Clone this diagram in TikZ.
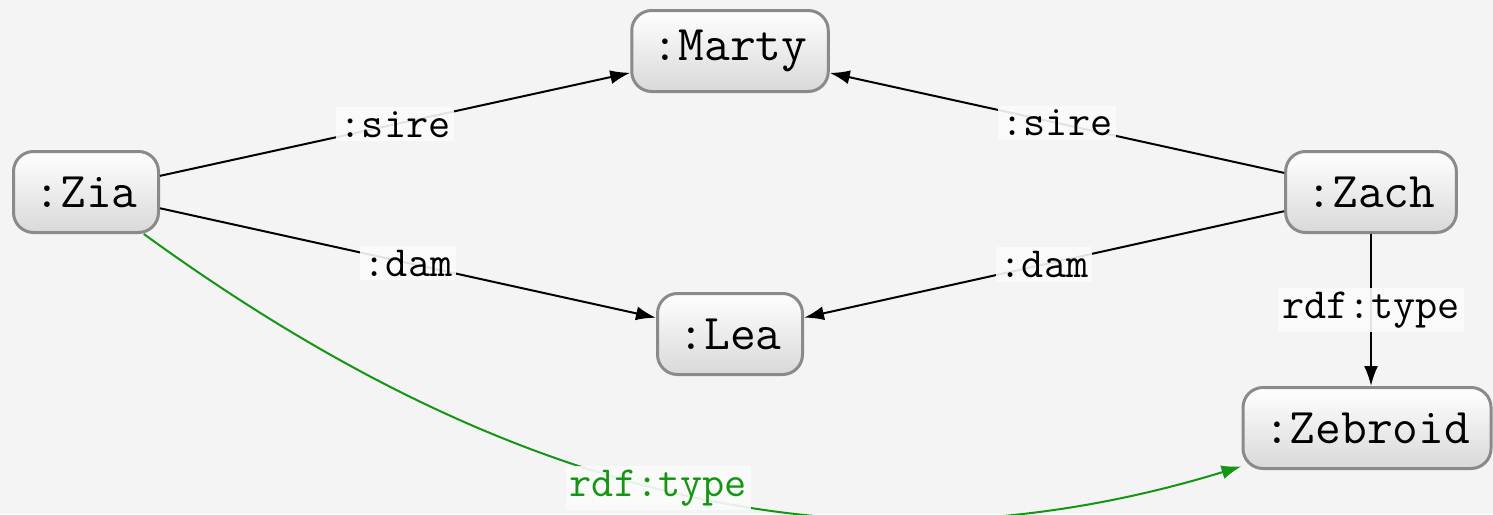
\documentclass[tikz,border=0pt]{standalone}
\usetikzlibrary{arrows.meta}
\definecolor{rdfgreen}{RGB}{20,150,20}
\definecolor{bordergray}{RGB}{138,138,138}
\definecolor{bggray}{RGB}{244,244,244}
\begin{document}
\begin{tikzpicture}[x=0.5pt,y=-0.5pt,
  res/.style={draw=bordergray, line width=1.5pt, rounded corners=10pt,
    top color=white, bottom color=black!15, inner xsep=10.5pt, inner ysep=0pt,
    minimum height=40.5pt, font=\fontsize{25}{28}\selectfont\ttfamily},
  edge/.style={line width=1pt, -{Latex[length=10pt,width=7pt]}},
  lbl/.style={fill=bggray!40!white, fill opacity=0.9, text opacity=1, inner sep=2pt,
    font=\fontsize{21.5}{24}\selectfont\ttfamily}]
\fill[bggray] (0,0) rectangle (1493,514);
\useasboundingbox (0,0) rectangle (1493,514);
\node[res] (Marty) at (730,51) {:Marty};
\node[res] (Zia) at (86,192) {:Zia};
\node[res] (Zach) at (1371,192) {:Zach};
\node[res] (Lea) at (730,334) {:Lea};
\node[res] (Zebroid) at (1367,428) {:Zebroid};
\draw[edge] (Zia) -- node[lbl]{:sire} (Marty);
\draw[edge] (Zach) -- node[lbl]{:sire} (Marty);
\draw[edge] (Zia) -- node[lbl]{:dam} (Lea);
\draw[edge] (Zach) -- node[lbl]{:dam} (Lea);
\draw[edge] (Zach.south) -- node[lbl]{rdf:type} (Zach.south |- Zebroid.north);
\draw[edge, color=rdfgreen] (Zia) to[out=-36, in=197, looseness=0.97]
  node[lbl, text=rdfgreen, pos=0.49]{rdf:type} (Zebroid);
\end{tikzpicture}
\end{document}
